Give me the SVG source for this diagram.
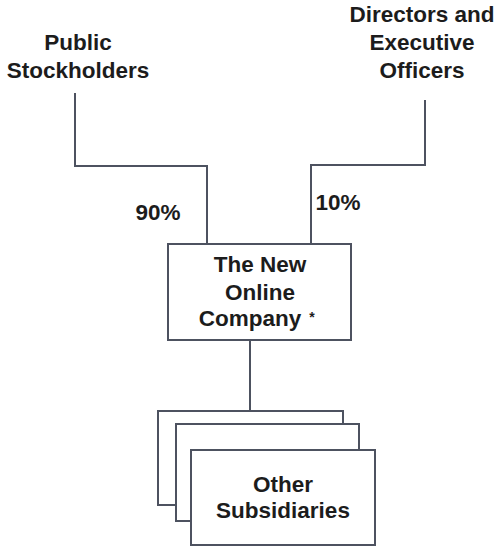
<svg xmlns="http://www.w3.org/2000/svg" width="499" height="547" viewBox="0 0 499 547">
  <style>
    .lbl { font-family: "Liberation Sans", Arial, sans-serif; font-weight: bold; font-size: 22.5px; fill: #1c1c1c; text-anchor: middle; }
    .box { fill: #ffffff; stroke: #4d5260; stroke-width: 2; }
    .wire { fill: none; stroke: #4d5260; stroke-width: 2; }
  </style>
  <rect width="499" height="547" fill="#ffffff"/>

  <g id="connectors">
    <polyline class="wire" points="75,93 75,166 207,166 207,244"/>
    <polyline class="wire" points="425,100 425,165 311,165 311,244"/>
    <line class="wire" x1="250" y1="340" x2="250" y2="411"/>
  </g>

  <g id="public-stockholders">
    <text class="lbl" x="78" y="50">Public</text>
    <text class="lbl" x="78" y="78">Stockholders</text>
  </g>

  <g id="directors-officers">
    <text class="lbl" x="422" y="22">Directors and</text>
    <text class="lbl" x="422" y="50">Executive</text>
    <text class="lbl" x="422" y="78">Officers</text>
  </g>

  <g id="share-90">
    <text class="lbl" x="158" y="220">90%</text>
  </g>
  <g id="share-10">
    <text class="lbl" x="338" y="210">10%</text>
  </g>

  <g id="new-online-company">
    <rect class="box" x="168" y="244" width="183" height="96"/>
    <text class="lbl" x="260" y="272">The New</text>
    <text class="lbl" x="260" y="300">Online</text>
    <text class="lbl" x="250" y="326">Company</text>
    <text class="lbl" x="312" y="322" style="font-size:14px">*</text>
  </g>

  <g id="other-subsidiaries">
    <rect class="box" x="158" y="411" width="185" height="94"/>
    <rect class="box" x="176" y="424" width="183" height="97"/>
    <rect class="box" x="191" y="450" width="184" height="95"/>
    <text class="lbl" x="283" y="492">Other</text>
    <text class="lbl" x="283" y="518">Subsidiaries</text>
  </g>
</svg>
